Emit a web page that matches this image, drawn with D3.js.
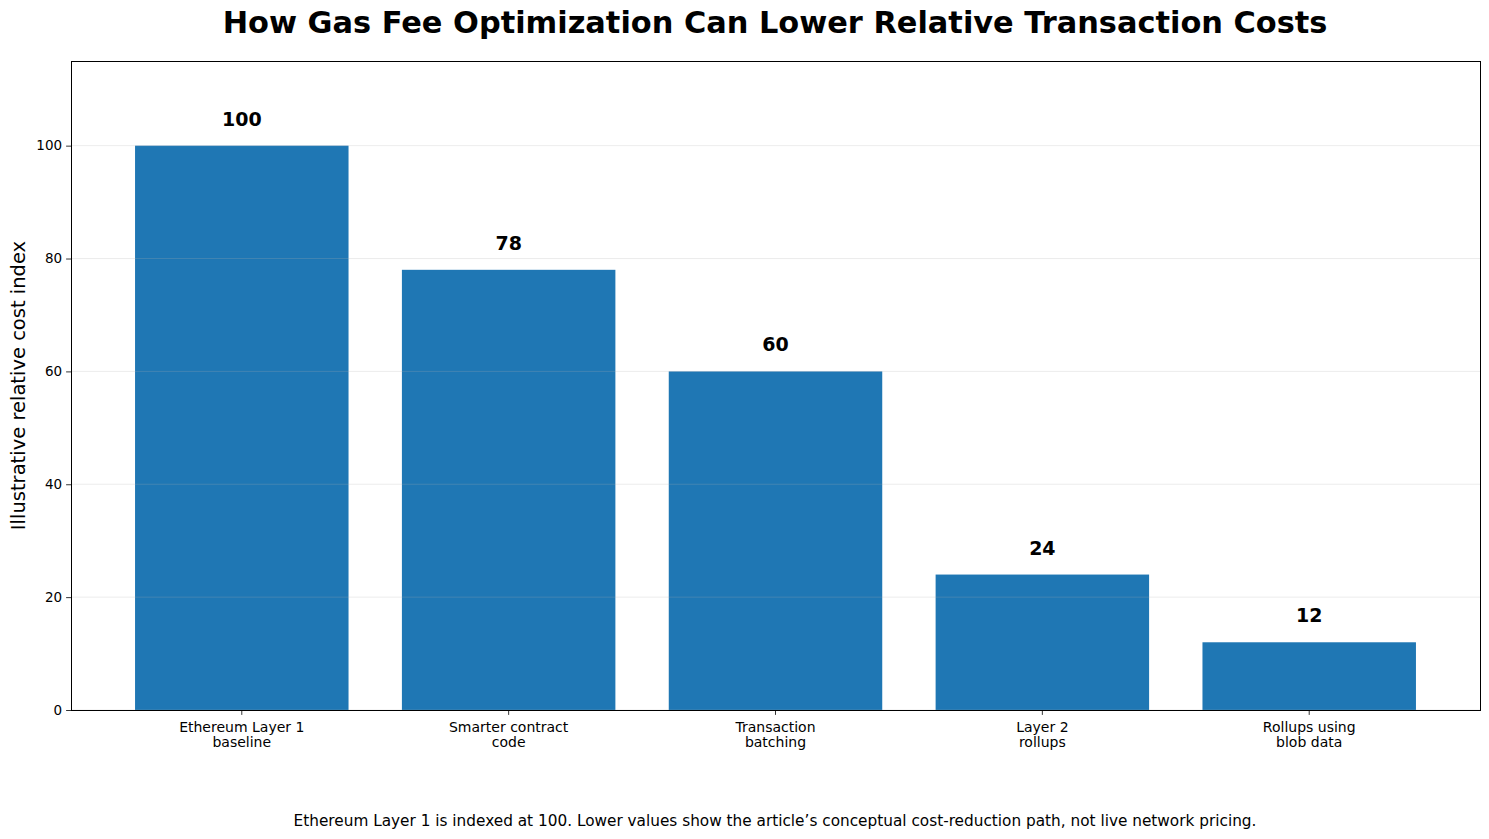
<html>
<meta charset='utf-8'>
<head>
    <script src="https://d3js.org/d3.v7.min.js"></script>
    <style>
      body { margin: 0; background: #fff; }
      text { font-family: "DejaVu Sans", sans-serif; }
    </style>
</head>
<body>
<div id='viz'></div>
<script>
    // chart data
    let categories = [
      ['Ethereum Layer 1', 'baseline'],
      ['Smarter contract', 'code'],
      ['Transaction', 'batching'],
      ['Layer 2', 'rollups'],
      ['Rollups using', 'blob data']
    ];
    let costIndex = [100, 78, 60, 24, 12];
    let yTicks = [0, 20, 40, 60, 80, 100];

    let width = 1489, height = 839;
    let margin = {top: 61, right: 9, bottom: 129, left: 71};
    let plotW = width - margin.left - margin.right;
    let plotH = height - margin.top - margin.bottom;

    let svg = d3.select('#viz').append('svg')
                .attr('width', width)
                .attr('height', height);

    // matplotlib-like linear x axis from -0.64 to 4.64
    let x = d3.scaleLinear().domain([-0.64, 4.64]).range([0, plotW]);
    let y = d3.scaleLinear().domain([0, 115]).range([plotH, 0]);
    let barW = x(0.8) - x(0);

    let g = svg.append('g').attr('transform', `translate(${margin.left},${margin.top})`);

    g.selectAll('rect.bar')
      .data(costIndex)
      .enter().append('rect')
      .attr('class', 'bar')
      .attr('x', (d, i) => x(i) - barW / 2)
      .attr('y', d => y(d))
      .attr('width', barW)
      .attr('height', d => y(0) - y(d))
      .attr('fill', '#1f77b4');

    // grid over bars, faint
    g.selectAll('line.grid')
      .data(yTicks)
      .enter().append('line')
      .attr('x1', 0).attr('x2', plotW)
      .attr('y1', d => y(d)).attr('y2', d => y(d))
      .attr('stroke', '#b0b0b0')
      .attr('stroke-opacity', 0.3)
      .attr('stroke-width', 0.8);

    // value labels
    g.selectAll('text.val')
      .data(costIndex)
      .enter().append('text')
      .attr('x', (d, i) => x(i))
      .attr('y', d => y(d) - 20)
      .attr('text-anchor', 'middle')
      .attr('font-size', '19px')
      .attr('font-weight', 'bold')
      .attr('fill', '#000')
      .text(d => d);

    // y axis
    let yAxis = g.append('g').call(d3.axisLeft(y).tickValues(yTicks).tickSize(4.9).tickPadding(4));
    yAxis.select('.domain').remove();
    yAxis.selectAll('text').attr('font-size', '13.5px').attr('fill', '#000').style('font-family', '"DejaVu Sans", sans-serif');
    yAxis.selectAll('line').attr('stroke', '#000').attr('stroke-width', 0.8);

    // x ticks + labels
    let xt = g.append('g').attr('transform', `translate(0,${plotH})`);
    categories.forEach((c, i) => {
      xt.append('line')
        .attr('x1', x(i)).attr('x2', x(i))
        .attr('y1', 0).attr('y2', 4.9)
        .attr('stroke', '#000').attr('stroke-width', 0.8);
      let t = xt.append('text')
        .attr('x', x(i))
        .attr('y', 21.5)
        .attr('text-anchor', 'middle')
        .attr('font-size', '14px')
        .attr('fill', '#000');
      c.forEach((line, j) => {
        t.append('tspan').attr('x', x(i)).attr('dy', j == 0 ? 0 : 15.5).text(line);
      });
    });

    // frame
    g.append('rect')
      .attr('x', 0).attr('y', 0)
      .attr('width', plotW).attr('height', plotH)
      .attr('fill', 'none')
      .attr('stroke', '#000')
      .attr('stroke-width', 1)
      .attr('shape-rendering', 'crispEdges');

    // y label
    svg.append('text')
      .attr('transform', `translate(25,${margin.top + plotH / 2}) rotate(-90)`)
      .attr('text-anchor', 'middle')
      .attr('font-size', '19.5px')
      .attr('fill', '#000')
      .text('Illustrative relative cost index');

    // title
    svg.append('text')
      .attr('x', 775)
      .attr('y', 33)
      .attr('text-anchor', 'middle')
      .attr('font-size', '30.4px')
      .attr('font-weight', 'bold')
      .attr('fill', '#000')
      .text('How Gas Fee Optimization Can Lower Relative Transaction Costs');

    // footnote
    svg.append('text')
      .attr('x', 775)
      .attr('y', 826)
      .attr('text-anchor', 'middle')
      .attr('font-size', '15.3px')
      .attr('fill', '#000')
      .text('Ethereum Layer 1 is indexed at 100. Lower values show the article\u2019s conceptual cost-reduction path, not live network pricing.');
</script>
</body>
</html>
